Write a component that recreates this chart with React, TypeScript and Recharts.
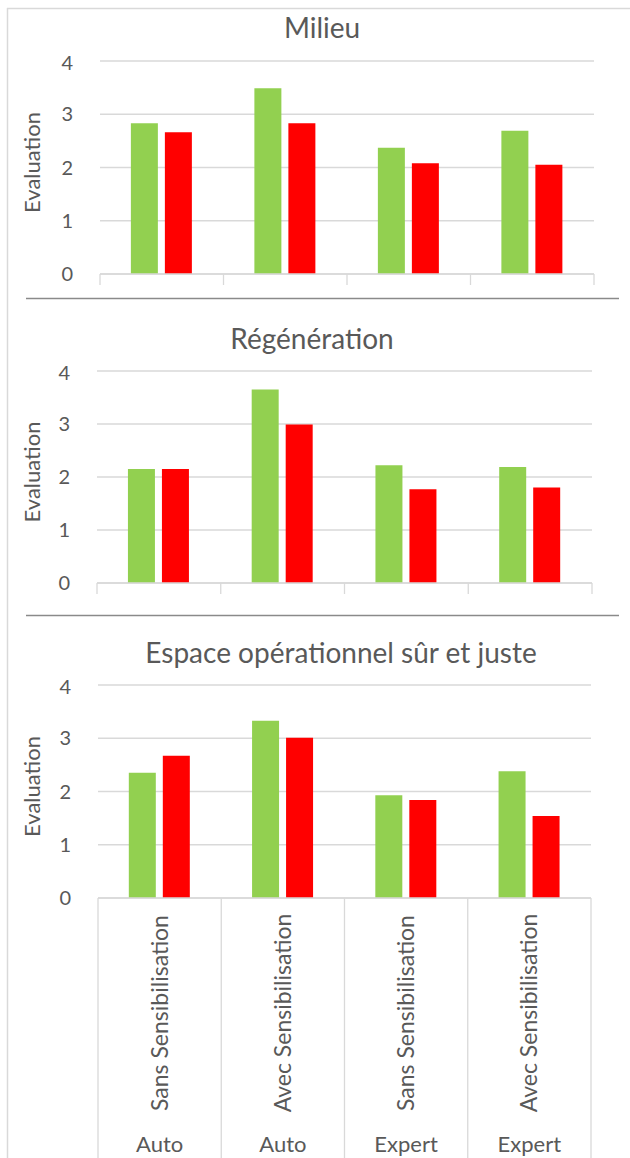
import React from 'react';
import { BarChart, Bar, XAxis, YAxis, CartesianGrid } from 'recharts';

const FONT = 'Lato, "Open Sans", sans-serif';
const TEXT = '#595959';
const GRID = '#d9d9d9';

const categories = ['Sans Sensibilisation', 'Avec Sensibilisation', 'Sans Sensibilisation', 'Avec Sensibilisation'];
const groups = ['Auto', 'Auto', 'Expert', 'Expert'];
const yTicks = [0, 1, 2, 3, 4];
const titles = ['Milieu', 'Régénération', 'Espace opérationnel sûr et juste'];

const milieuGreen = [2.83, 3.49, 2.37, 2.69];
const milieuRed = [2.66, 2.83, 2.08, 2.05];
const regenGreen = [2.15, 3.65, 2.22, 2.19];
const regenRed = [2.15, 2.99, 1.77, 1.8];
const espaceGreen = [2.35, 3.33, 1.93, 2.38];
const espaceRed = [2.67, 3.01, 1.84, 1.54];

const W = 630;

function buildData(green: number[], red: number[]) {
  return categories.map((c, i) => ({
    key: `${groups[i]}|${c}|${i}`,
    category: c,
    group: groups[i],
    green: green[i],
    red: red[i],
  }));
}

type PanelProps = {
  title: string;
  green: number[];
  red: number[];
  plotTop: number;
  plotH: number;
  left: number;
  right: number;
  xAxisH: number;
  titleX: number;
  titleY: number;
  detailed: boolean;
};

function Panel(p: PanelProps) {
  const data = buildData(p.green, p.red);
  const band = (p.right - p.left) / categories.length;
  const n = categories.length;
  const tickLen = p.detailed ? p.xAxisH : 11;

  const renderTick = (props: any) => {
    const { x, y, index } = props;
    const lx = x - band / 2;
    const rx = x + band / 2;
    return (
      <g>
        <line x1={lx} x2={lx} y1={y} y2={y + tickLen} stroke={GRID} strokeWidth={1.3} />
        {index === n - 1 && (
          <line x1={rx} x2={rx} y1={y} y2={y + tickLen} stroke={GRID} strokeWidth={1.3} />
        )}
        {p.detailed && (
          <text
            x={x + 8}
            y={y + 115}
            transform={`rotate(-90, ${x + 8}, ${y + 115})`}
            textAnchor="middle"
            fill={TEXT}
            fontSize={23}
            fontFamily={FONT}
          >
            {categories[index]}
          </text>
        )}
        {p.detailed && (
          <text x={x} y={y + 254} textAnchor="middle" fill={TEXT} fontSize={22} fontFamily={FONT}>
            {groups[index]}
          </text>
        )}
      </g>
    );
  };

  const renderLabel = (lp: any) => {
    const vb = lp.viewBox || { x: 0, y: 0, width: 0, height: 0 };
    const lx = vb.x + 40;
    const ly = vb.y + vb.height / 2 - 5;
    return (
      <text
        x={lx}
        y={ly}
        transform={`rotate(-90, ${lx}, ${ly})`}
        textAnchor="middle"
        fill={TEXT}
        fontSize={22}
        fontFamily={FONT}
      >
        Evaluation
      </text>
    );
  };

  return (
    <div style={{ position: 'absolute', left: 0, top: p.plotTop - 10 }}>
      <BarChart
        width={W}
        height={10 + p.plotH + p.xAxisH}
        data={data}
        margin={{ top: 10, right: W - p.right, bottom: 0, left: 0 }}
        barCategoryGap="25%"
        barGap={7}
      >
        <CartesianGrid vertical={false} stroke={GRID} strokeWidth={1.3} />
        <XAxis
          dataKey="key"
          height={p.xAxisH}
          axisLine={{ stroke: GRID, strokeWidth: 1.3 }}
          tickLine={false}
          tickSize={0}
          tickMargin={0}
          interval={0}
          tick={renderTick}
        />
        <YAxis
          width={p.left}
          domain={[0, 4]}
          ticks={yTicks}
          axisLine={false}
          tickLine={false}
          tickSize={0}
          tickMargin={27}
          tick={{ fill: TEXT, fontSize: 20, fontFamily: FONT }}
          label={{ content: renderLabel }}
        />
        <Bar dataKey="green" fill="#92D050" isAnimationActive={false} />
        <Bar dataKey="red" fill="#FF0000" isAnimationActive={false} />
      </BarChart>
    </div>
  );
}

export default function App() {
  const panels: PanelProps[] = [
    { title: titles[0], green: milieuGreen, red: milieuRed, plotTop: 61, plotH: 213, left: 100, right: 594, xAxisH: 26, titleX: 322, titleY: 38, detailed: false },
    { title: titles[1], green: regenGreen, red: regenRed, plotTop: 371, plotH: 212, left: 97, right: 592, xAxisH: 26, titleX: 312, titleY: 349, detailed: false },
    { title: titles[2], green: espaceGreen, red: espaceRed, plotTop: 685, plotH: 213, left: 98, right: 591, xAxisH: 260, titleX: 341, titleY: 663, detailed: true },
  ];
  return (
    <div
      style={{
        position: 'absolute',
        left: 0,
        top: 0,
        width: W,
        height: 1158,
        overflow: 'hidden',
        background: '#fff',
      }}
    >
      <svg width={W} height={1158} style={{ position: 'absolute', left: 0, top: 0 }}>
        <line x1={7.5} x2={7.5} y1={8} y2={1158} stroke={GRID} strokeWidth={1.5} />
        <line x1={7} x2={630} y1={8.5} y2={8.5} stroke={GRID} strokeWidth={1.5} />
        <line x1={26} x2={619} y1={298.5} y2={298.5} stroke="#8a8a8a" strokeWidth={1.6} />
        <line x1={26} x2={619} y1={615.5} y2={615.5} stroke="#8a8a8a" strokeWidth={1.6} />
        {panels.map((p) => (
          <text key={p.title} x={p.titleX} y={p.titleY} textAnchor="middle" fill={TEXT} fontSize={28} fontFamily={FONT}>
            {p.title}
          </text>
        ))}
      </svg>
      {panels.map((p) => (
        <Panel key={p.title} {...p} />
      ))}
    </div>
  );
}
